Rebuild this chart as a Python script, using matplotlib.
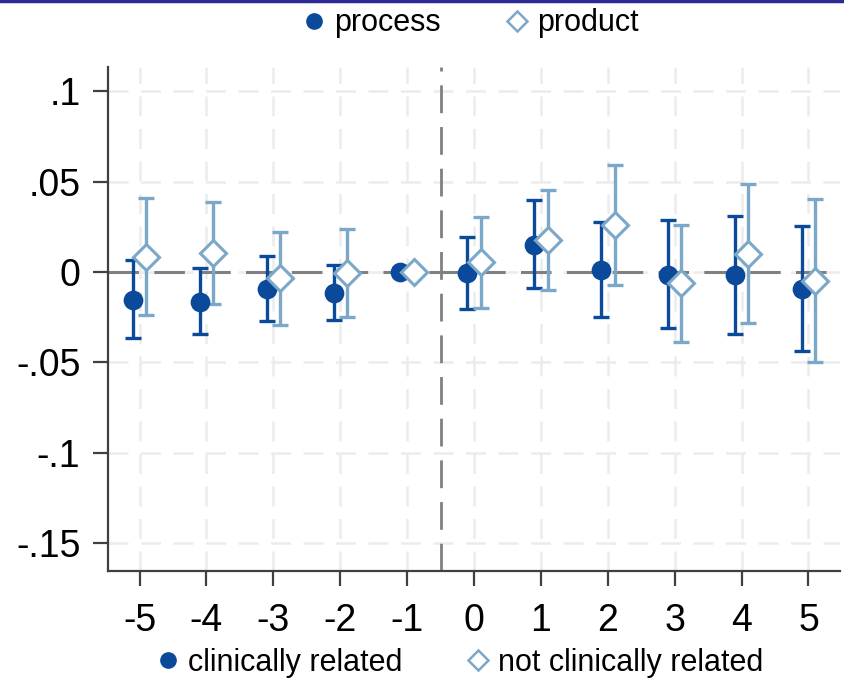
import numpy as np
import matplotlib.pyplot as plt
from matplotlib.lines import Line2D

plt.rcParams['font.family'] = ['Liberation Sans', 'DejaVu Sans']

# event time relative to treatment
periods = [-5, -4, -3, -2, -1, 0, 1, 2, 3, 4, 5]

# clinically related: point estimate and 95% CI
clin_coef = [-0.0155, -0.0164, -0.0094, -0.0114, 0.0, -0.0004, 0.0149, 0.0011, -0.0017, -0.0017, -0.0094]
clin_lo = [-0.0367, -0.0343, -0.0269, -0.0265, 0.0, -0.0205, -0.0087, -0.0251, -0.0311, -0.0343, -0.0437]
clin_hi = [0.0066, 0.0024, 0.0088, 0.0039, 0.0, 0.0195, 0.0398, 0.0275, 0.0288, 0.0311, 0.0256]

# not clinically related
nonclin_coef = [0.0085, 0.0103, -0.0035, -0.0004, 0.0, 0.0053, 0.0177, 0.0260, -0.0063, 0.0100, -0.0048]
nonclin_lo = [-0.0238, -0.0179, -0.0293, -0.0247, 0.0, -0.0197, -0.0100, -0.0072, -0.0389, -0.0284, -0.0496]
nonclin_hi = [0.0408, 0.0389, 0.0223, 0.0236, 0.0, 0.0306, 0.0453, 0.0592, 0.0260, 0.0487, 0.0402]

yticks = [0.1, 0.05, 0, -0.05, -0.1, -0.15]
ytick_labels = ['.1', '.05', '0', '-.05', '-.1', '-.15']

navy = '#0b4a9a'
light = '#7ba7c9'

x = np.array(periods, dtype=float)

fig = plt.figure(figsize=(8.45, 6.85), dpi=100)
ax = fig.add_axes([0.128, 0.1664, 0.866, 0.7358])

# reference lines
ax.set_axisbelow(True)
ax.grid(True, color='#ececec', linestyle=(0, (8, 5)), linewidth=1.8)
ax.axhline(0, color='#808080', linestyle=(0, (10, 5)), linewidth=2.2, zorder=1)
ax.axvline(-0.5, color='#808080', linestyle=(0, (10, 5)), linewidth=2.0, zorder=1)

def ci_plot(xs, coef, lo, hi, color, marker, filled):
    coef = np.array(coef)
    yerr = [coef - np.array(lo), np.array(hi) - coef]
    ax.errorbar(xs, coef, yerr=yerr, fmt='none', ecolor=color, elinewidth=2.4,
                capsize=6, capthick=2.4, zorder=3)
    ax.plot(xs, coef, linestyle='none', marker=marker,
            markersize=12 if marker == 'o' else 13,
            markerfacecolor=color if filled else 'white',
            markeredgecolor=color, markeredgewidth=2.2, zorder=4)

ci_plot(x - 0.1, clin_coef, clin_lo, clin_hi, navy, 'o', True)
ci_plot(x + 0.1, nonclin_coef, nonclin_lo, nonclin_hi, light, 'D', False)

ax.set_xlim(-5.47, 5.47)
ax.set_ylim(-0.1654, 0.1134)
ax.set_xticks(periods)
ax.set_xticklabels([str(p) for p in periods])
ax.set_yticks(yticks)
ax.set_yticklabels(ytick_labels)

for side in ['top', 'right']:
    ax.spines[side].set_visible(False)
for side in ['left', 'bottom']:
    ax.spines[side].set_color('#404040')
    ax.spines[side].set_linewidth(1.6)
ax.tick_params(axis='both', length=11, width=1.6, color='#404040',
               labelsize=27, pad=9)
ax.tick_params(axis='x', pad=12)

# legends
def legend_handles(lab1, lab2):
    h1 = Line2D([], [], linestyle='none', marker='o', markersize=11,
                markerfacecolor=navy, markeredgecolor=navy, label=lab1)
    h2 = Line2D([], [], linestyle='none', marker='D', markersize=10,
                markerfacecolor='white', markeredgecolor=light,
                markeredgewidth=1.8, label=lab2)
    return [h1, h2]

fig.legend(handles=legend_handles('process', 'product'), loc='center',
           bbox_to_anchor=(0.555, 0.966), ncol=2, frameon=False, fontsize=22,
           handletextpad=0.15, columnspacing=2.0, handlelength=1.0)
fig.legend(handles=legend_handles('clinically related', 'not clinically related'),
           loc='center', bbox_to_anchor=(0.542, 0.032), ncol=2, frameon=False,
           fontsize=22, handletextpad=0.15, columnspacing=2.0, handlelength=1.0)

# thin frame line along the top edge
fig.add_artist(Line2D([0, 1], [0.9985, 0.9985], color='#2e2a94', linewidth=2.5,
                      transform=fig.transFigure))

plt.savefig('out.png', dpi=100)
